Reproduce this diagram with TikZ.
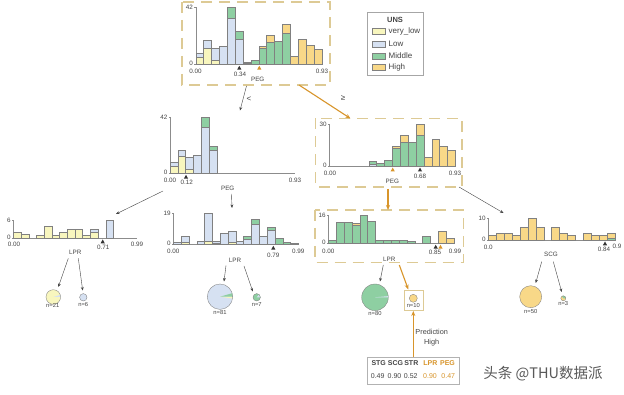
\documentclass[tikz,border=0pt]{standalone}
\usepackage{fontspec}
\setmainfont{Liberation Sans}
\newfontfamily\cjk{Noto Sans CJK SC}
\usetikzlibrary{arrows.meta,shadows}
\definecolor{vl}{HTML}{F8F6BE}
\definecolor{lo}{HTML}{D6E1F2}
\definecolor{mi}{HTML}{8ECFA2}
\definecolor{hi}{HTML}{F8D888}
\definecolor{txt}{HTML}{444444}
\definecolor{org}{HTML}{D8952B}
\definecolor{dsh}{HTML}{DDCA95}
\tikzset{
  bar/.style={draw=black!50,line width=0.35pt},
  axisl/.style={draw=black!45,line width=0.4pt},
  tick/.style={font=\fontsize{6.3}{6.3}\selectfont,text=txt,inner sep=0.5pt},
  feat/.style={font=\fontsize{6.3}{6.3}\selectfont,text=txt,inner sep=0.5pt},
  nlab/.style={font=\fontsize{5.8}{5.8}\selectfont,text=txt,inner sep=0.5pt},
  hbox/.style={draw=dsh,line width=1.1pt,dash pattern=on 11pt off 7pt},
  conn/.style={draw=txt,line width=0.4pt,-{Stealth[length=3.5pt,width=2.8pt]}},
  hconn/.style={draw=org,line width=1.1pt,-{Stealth[length=5pt,width=4pt]}},
  pieedge/.style={draw=black!50,line width=0.35pt},
  legt/.style={font=\fontsize{8}{8}\selectfont,text=txt,anchor=west,inner sep=0.5pt},
  predt/.style={font=\fontsize{7}{7}\selectfont,text=txt,inner sep=0.5pt},
}
% ox, oy, xlen, ylen, ymax label, name prefix
\newcommand\haxes[6]{%
  \draw[axisl] (#1,#2) -- ++(0,-#4);
  \draw[axisl] (#1,#2) -- ++(#3,0);
  \draw[axisl] (#1,#2-#4) -- ++(-1.5,0);
  \draw[axisl] (#1,#2) -- ++(-1.5,0);
  \node[tick,anchor=east] (#6ymax) at (#1-2,#2-#4) {#5};
  \node[tick,anchor=east] (#6yzero) at (#1-2,#2-0.5) {0};
}
% ox, oy, bin width, scale, list idx/color/from/to
\newcommand\hbars[5]{\foreach \i/\c/\a/\b in {#5}{%
  \draw[bar,fill=\c] ({#1+\i*#3},{#2-\a*#4}) rectangle ({#1+(\i+1)*#3},{#2-\b*#4});}}
\newcommand\htri[3]{\fill[#3] (#1,#2) -- ++(-2.1,3.8) -- ++(4.2,0) -- cycle;}
% cx, cy, r, base colour, wedges a/b/colour
\newcommand\hpie[5]{%
  \begin{scope}[shift={(#1,#2)},yscale=-1]
    \fill[#4] (0,0) circle (#3);
    \foreach \a/\b/\c in {#5}{\fill[\c] (0,0) -- (\a:#3) arc[start angle=\a,end angle=\b,radius=#3] -- cycle;}
    \draw[pieedge] (0,0) circle (#3);
  \end{scope}}
\begin{document}
\begin{tikzpicture}[x=1pt,y=-1pt]
\useasboundingbox (0,0) rectangle (624,395);
\fill[white] (0,0) rectangle (624,395);

% ===== top node =====
\draw[hbox] (182,2) rectangle (330,85);
\haxes{195.7}{64}{126}{57}{42}{t}
\hbars{195.7}{64}{7.875}{1.357}{0/vl/0/5,0/lo/5/8,1/vl/0/12,1/lo/12/17.5,2/vl/0/3,2/lo/3/11.5,3/lo/0/13,4/lo/0/34,4/mi/34/42,5/lo/0/18,5/mi/18/24,6/lo/0/0.6,6/mi/0.6/1.5,7/mi/0/3,8/mi/0/11.5,8/hi/11.5/13.5,9/mi/0/16,9/hi/16/21.5,10/mi/0/17,11/mi/0/22.5,11/hi/22.5/29,12/hi/0/6,13/hi/0/18,14/hi/0/14,15/hi/0/11}
\htri{239.3}{65.8}{black!80}
\htri{259.3}{65.8}{org}
\node[tick] (t00) at (195.5,71.5) {0.00};
\node[tick] (t93) at (322,71.5) {0.93};
\node[tick] (t34) at (240,74) {0.34};
\node[feat] (tfeat) at (257.7,79.3) {PEG};

% ===== legend =====
\draw[draw=black!35,fill=white,line width=0.5pt] (367,12) rectangle (423.5,75);
\node[font=\bfseries\fontsize{7.5}{7.5}\selectfont,text=txt,inner sep=0.5pt] (legT) at (395,19.5) {UNS};
\draw[bar,fill=vl] (372,28.5) rectangle (385,34.5);
\draw[bar,fill=lo] (372,41) rectangle (385,47);
\draw[bar,fill=mi] (372,53) rectangle (385,59);
\draw[bar,fill=hi] (372,64.5) rectangle (385,70.5);
\node[legt] (leg1) at (388,31.5) {very\_low};
\node[legt] (leg2) at (388,44) {Low};
\node[legt] (leg3) at (388,56) {Middle};
\node[legt] (leg4) at (388,67.5) {High};

% ===== left second node =====
\haxes{170}{173.3}{125}{56}{42}{l}
\hbars{170}{173.3}{7.8125}{1.333}{0/vl/0/5.5,0/lo/5.5/8,1/vl/0/12.6,1/lo/12.6/17.5,2/vl/0/3,2/lo/3/12,3/lo/0/13.5,4/lo/0/34.7,4/mi/34.7/42,5/lo/0/17.5,5/mi/17.5/20.7}
\htri{186}{174.8}{black!80}
\node[tick] (l00) at (170,180.5) {0.00};
\node[tick] (l12) at (186.7,182.5) {0.12};
\node[tick] (l93) at (295,180.5) {0.93};
\node[feat] (lfeat) at (227.7,188.3) {PEG};

% ===== right second node =====
\draw[hbox] (315.7,118.3) rectangle (462,187);
\haxes{329.3}{166}{126}{42}{30}{r}
\hbars{329.3}{166}{7.875}{1.4}{5/lo/0/1,5/mi/1/3.8,6/mi/0/2,7/mi/0/4,8/mi/0/12.6,8/hi/12.6/14,9/mi/0/16.7,9/hi/16.7/22,10/mi/0/17,11/mi/0/22,11/hi/22/30,12/hi/0/6,13/hi/0/19,14/hi/0/14,15/hi/0/11}
\htri{392.7}{167.6}{org}
\htri{420}{167.6}{black!80}
\node[tick] (r00) at (330,173.5) {0.00};
\node[tick] (r68) at (420,176) {0.68};
\node[tick] (r93) at (455,173.5) {0.93};
\node[feat] (rfeat) at (392.3,181) {PEG};

% ===== third level: left LPR =====
\haxes{13.3}{238}{123.4}{18}{6}{a}
\hbars{13.3}{238}{7.7}{3}{0/vl/0/2,1/vl/0/1.2,3/vl/0/1,4/vl/0/4,5/vl/0/1,6/vl/0/2,7/vl/0/3,8/vl/0/3,9/vl/0/1,10/vl/0/2,10/lo/2/3,12/lo/0/6}
\htri{102.7}{239.5}{black!80}
\node[tick] (a00) at (14,244) {0.00};
\node[tick] (a71) at (103.3,247.3) {0.71};
\node[tick] (a99) at (137,244) {0.99};
\node[feat] (afeat) at (75.3,252.7) {LPR};

% ===== third level: middle LPR =====
\haxes{173.3}{244.3}{125}{31}{19}{b}
\hbars{173.3}{244.3}{7.8125}{1.63}{0/lo/0/1,1/vl/0/1.5,1/lo/1.5/5,3/lo/0/2,4/vl/0/2,4/lo/2/19,5/vl/0/0.8,5/lo/0.8/2,6/lo/0/7,7/vl/0/1,7/lo/1/8,8/lo/0/2,9/lo/0/3,9/mi/3/4.7,10/lo/0/12.5,10/mi/12.5/15.3,11/lo/0/4.7,12/lo/0/8.8,12/mi/8.8/10.8,13/mi/0/3.7,14/mi/0/1,15/mi/0/0.5}
\htri{273.3}{245.8}{black!80}
\node[tick] (b00) at (173.3,251.8) {0.00};
\node[tick] (b79) at (273.3,255) {0.79};
\node[tick] (b99) at (298.3,251.8) {0.99};
\node[feat] (bfeat) at (235,260.7) {LPR};

% ===== third level: right LPR =====
\draw[hbox] (315,210) rectangle (463.3,262.3);
\haxes{328.3}{243.3}{125.7}{28}{16}{c}
\hbars{328.3}{243.3}{7.856}{1.75}{0/mi/0/1.9,1/mi/0/12,2/mi/0/12,3/mi/0/10.2,3/hi/10.2/11.3,4/mi/0/16,5/mi/0/12.8,6/mi/0/2,7/mi/0/2,8/mi/0/2,9/mi/0/2,10/mi/0/1,12/mi/0/4,14/hi/0/7,15/hi/0/3}
\htri{435.7}{244.8}{black!80}
\htri{440.5}{244.8}{org}
\node[tick] (c00) at (328.3,251) {0.00};
\node[tick] (c85) at (435,252.7) {0.85};
\node[tick] (c99) at (455,251) {0.99};
\node[feat] (cfeat) at (389.3,259) {LPR};

% ===== third level: SCG =====
\haxes{488.3}{240}{126.7}{21.7}{10}{d}
\hbars{488.3}{240}{7.92}{2.17}{0/hi/0/2,1/hi/0/3,2/hi/0/3,3/hi/0/2,4/hi/0/6,5/hi/0/10,6/hi/0/6,8/hi/0/6,9/hi/0/3,10/hi/0/2,12/hi/0/3,13/hi/0/2,14/hi/0/2,15/mi/0/1,15/hi/1/3}
\htri{605}{241.5}{black!80}
\node[tick] (d00) at (488.3,247) {0.0};
\node[tick] (d84) at (604,249.3) {0.84};
\node[tick] (d9) at (617,246.7) {0.9};
\node[feat] (dfeat) at (551,254.3) {SCG};

% ===== leaves =====
\hpie{53.3}{297}{7.3}{vl}{0/17/lo}
\node[nlab] (n1) at (52.7,305.7) {n=21};
\hpie{83.3}{297.3}{3.7}{lo}{0/30/lo}
\node[nlab] (n2) at (83.3,304.3) {n=6};
\hpie{220}{296.7}{12.7}{lo}{-8/0/vl,0/16/mi}
\node[nlab] (n3) at (220,312.7) {n=81};
\hpie{256.7}{297.3}{3.7}{mi}{0/50/lo}
\node[nlab] (n4) at (256.7,304.3) {n=7};
\hpie{375}{297.3}{13.3}{mi}{0/5/lo}
\node[nlab] (n5) at (375,313.3) {n=80};
\draw[draw=dsh,line width=0.6pt] (404,290.5) rectangle (423.5,310.5);
\hpie{413.3}{298.3}{4}{hi}{0/1/hi}
\node[nlab] (n6) at (413.3,306) {n=10};
\hpie{530.7}{296.7}{11}{hi}{0/1/hi}
\node[nlab] (n7) at (530.7,311.3) {n=50};
\hpie{563.3}{298.3}{2.5}{hi}{0/120/mi}
\node[nlab] (n8) at (563.3,303.3) {n=3};

% ===== connectors =====
\coordinate (tA) at (246.5,86);  \coordinate (lA) at (240,110.5);
\coordinate (tB) at (299,85);    \coordinate (rB) at (350.5,118.5);
\coordinate (lC) at (163,191);   \coordinate (aC) at (116,214);
\coordinate (lD) at (231.5,194); \coordinate (bD) at (232,208);
\coordinate (rE) at (388,189);   \coordinate (cE) at (388,210);
\coordinate (rF) at (459,187);   \coordinate (dF) at (503.5,213);
\draw[conn] (tA) -- (lA);
\draw[hconn] (tB) -- (rB);
\draw[conn] (lC) -- (aC);
\draw[conn] (lD) -- (bD);
\draw[hconn] (rE) -- (cE);
\draw[conn] (rF) -- (dF);
\node[font=\fontsize{8}{8}\selectfont,text=txt,inner sep=0.5pt] (ltlab) at (249,99) {<};
\node[font=\fontsize{8}{8}\selectfont,text=txt,inner sep=0.5pt] (gelab) at (343,98.5) {≥};

\coordinate (a1) at (68.3,258.3);  \coordinate (p1) at (58.3,287);
\coordinate (a2) at (78.3,258.3);  \coordinate (p2) at (82.7,290.5);
\coordinate (b1) at (226,265.5);   \coordinate (p3) at (224,281.5);
\coordinate (b2) at (244,266);     \coordinate (p4) at (252.8,291.5);
\coordinate (c1) at (383.3,265);   \coordinate (p5) at (380,281.5);
\coordinate (c2) at (399.3,265);   \coordinate (p6) at (408.3,289.5);
\coordinate (d1) at (541.7,261.7); \coordinate (p7) at (535.7,283);
\coordinate (d2) at (553.3,261.7); \coordinate (p8) at (561.7,292);
\draw[conn] (a1) -- (p1);
\draw[conn] (a2) -- (p2);
\draw[conn] (b1) -- (p3);
\draw[conn] (b2) -- (p4);
\draw[conn] (c1) -- (p5);
\draw[hconn] (c2) -- (p6);
\draw[conn] (d1) -- (p7);
\draw[conn] (d2) -- (p8);

% ===== prediction =====
\draw[draw=black!30,fill=white,line width=0.5pt,drop shadow={opacity=0.25,shadow xshift=0.8pt,shadow yshift=-0.8pt}] (367.3,357.3) rectangle (459.3,384);
\coordinate (pr) at (413.3,357.3); \coordinate (pq) at (413.3,311);
\draw[hconn] (pr) -- (pq);
\node[font=\fontsize{7.3}{7.3}\selectfont,text=txt,inner sep=0.5pt] (predl) at (431.7,331.7) {Prediction};
\node[font=\fontsize{7.3}{7.3}\selectfont,text=txt,inner sep=0.5pt] (predv) at (431.7,342.7) {High};
\node[predt,font=\bfseries\fontsize{7}{7}\selectfont] (h1) at (378.7,363) {STG};
\node[predt,font=\bfseries\fontsize{7}{7}\selectfont] (h2) at (395.5,363) {SCG};
\node[predt,font=\bfseries\fontsize{7}{7}\selectfont] (h3) at (411.3,363) {STR};
\node[predt,font=\bfseries\fontsize{7}{7}\selectfont,text=org] (h4) at (430.3,363) {LPR};
\node[predt,font=\bfseries\fontsize{7}{7}\selectfont,text=org] (h5) at (447.5,363) {PEG};
\node[predt] (v1) at (377.7,376) {0.49};
\node[predt] (v2) at (394.5,376) {0.90};
\node[predt] (v3) at (410.8,376) {0.52};
\node[predt,text=org] (v4) at (430,376) {0.90};
\node[predt,text=org] (v5) at (448.3,376) {0.47};

% ===== watermark =====
\node[font=\cjk\fontsize{14.5}{14.5}\selectfont,text=black!65,inner sep=0pt] (wm) at (543,374) {头条 @THU数据派};
\end{tikzpicture}
\end{document}
